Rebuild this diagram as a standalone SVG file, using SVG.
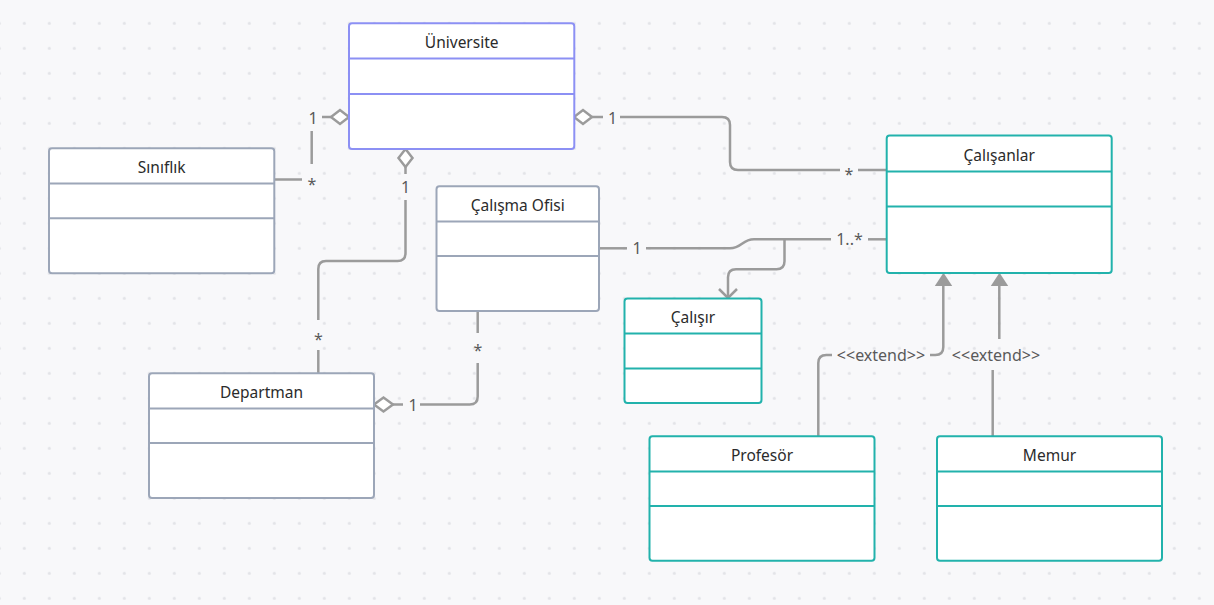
<svg xmlns="http://www.w3.org/2000/svg" width="1214" height="605" viewBox="0 0 1214 605">
<defs>
<pattern id="dots" x="11.8" y="10.8" width="25" height="25" patternUnits="userSpaceOnUse">
<circle cx="12.5" cy="12.5" r="1.6" fill="#e3e4e8"/>
</pattern>
<style>
.box{fill:#fff;stroke-width:2}
.gray{stroke:#9ca6b8}
.blue{stroke:#8c90f4}
.teal{stroke:#22b2ac}
.hd{font-family:"Noto Sans","Open Sans","Liberation Sans",sans-serif;font-size:15.5px;fill:#2b2b2b;text-anchor:middle}
.ln{fill:none;stroke:#9b9b9b;stroke-width:2.5;stroke-linecap:butt}
.lb{font-family:"Noto Sans","Open Sans","Liberation Sans",sans-serif;font-size:16px;fill:#5a5a5a;text-anchor:middle}
.dia{fill:#fff;stroke:#9b9b9b;stroke-width:2.5}
.tri{fill:#9b9b9b;stroke:none}
</style>
</defs>
<rect width="1214" height="605" fill="#f8f8fa"/>
<rect width="1214" height="605" fill="url(#dots)"/>

<g id="connectors">
<!-- Sınıflık - Üniversite -->
<path class="ln" d="M274,179.5 H302"/>
<path class="ln" d="M311.7,164 V131"/>
<path class="ln" d="M322,117 H331"/>
<polygon class="dia" points="349,117 340,110 331,117 340,124"/>
<text class="lb" x="313" y="123.5">1</text>
<text class="lb" x="312" y="190">*</text>

<!-- Üniversite - Departman -->
<polygon class="dia" points="405.5,149 412.5,158 405.5,167 398.5,158"/>
<path class="ln" d="M405.5,167 V174"/>
<path class="ln" d="M405.5,200 V253 Q405.5,261 397.5,261 H326 Q318.3,261 318.3,269 V320"/>
<path class="ln" d="M318.3,350 V373"/>
<text class="lb" x="405.5" y="193">1</text>
<text class="lb" x="318.3" y="345">*</text>

<!-- Departman - Çalışma Ofisi -->
<polygon class="dia" points="374,404.5 383.5,397.5 393,404.5 383.5,411.5"/>
<path class="ln" d="M393,404.5 H403"/>
<path class="ln" d="M420,404.5 H469.7 Q477.7,404.5 477.7,396.5 V363"/>
<path class="ln" d="M477.7,333 V311"/>
<text class="lb" x="413" y="410.5">1</text>
<text class="lb" x="478" y="356">*</text>

<!-- Üniversite - Çalışanlar -->
<polygon class="dia" points="574,117 583,110 592,117 583,124"/>
<path class="ln" d="M592,117 H603"/>
<path class="ln" d="M620,117 H722 Q730,117 730,125 V162 Q730,170 738,170 H840"/>
<path class="ln" d="M858,170 H886"/>
<text class="lb" x="612.7" y="123.5">1</text>
<text class="lb" x="849" y="180">*</text>

<!-- Çalışma Ofisi - Çalışanlar -->
<path class="ln" d="M599,248.3 H627"/>
<path class="ln" d="M646,248.3 H730 C742,248.3 742,239.3 754,239.3 H831"/>
<path class="ln" d="M868,239.3 H886"/>
<text class="lb" x="637" y="254">1</text>
<text class="lb" x="849.5" y="245">1..*</text>
<!-- branch to Çalışır -->
<path class="ln" d="M784.5,239.3 V261.3 Q784.5,269.3 776.5,269.3 H736 Q728,269.3 728,277.3 V297"/>
<path class="ln" d="M719,289 L728,298 L737,289"/>

<!-- Profesör extends Çalışanlar -->
<path class="ln" d="M818.3,436 V363 Q818.3,355 826.3,355 H832"/>
<path class="ln" d="M930,355 H935.3 Q943.3,355 943.3,347 V285"/>
<polygon class="tri" points="934.8,286 943.5,272.7 952.2,286"/>
<text class="lb" x="881" y="361">&lt;&lt;extend&gt;&gt;</text>

<!-- Memur extends Çalışanlar -->
<path class="ln" d="M992.7,436 V370"/>
<path class="ln" d="M999.3,339 V285"/>
<polygon class="tri" points="990.8,286 999.5,272.7 1008.2,286"/>
<text class="lb" x="996" y="361">&lt;&lt;extend&gt;&gt;</text>
</g>

<g id="universite">
<rect class="box blue" x="349" y="23.3" width="225.3" height="125.7" rx="3"/>
<line class="blue" stroke-width="2" x1="349" y1="58.5" x2="574.3" y2="58.5"/>
<line class="blue" stroke-width="2" x1="349" y1="94" x2="574.3" y2="94"/>
<text class="hd" x="461.7" y="47.5">Üniversite</text>
</g>

<g id="siniflik">
<rect class="box gray" x="49" y="148.3" width="225.3" height="125" rx="3"/>
<line class="gray" stroke-width="2" x1="49" y1="183.5" x2="274.3" y2="183.5"/>
<line class="gray" stroke-width="2" x1="49" y1="218.3" x2="274.3" y2="218.3"/>
<text class="hd" x="161.7" y="172.5">Sınıflık</text>
</g>

<g id="calisma-ofisi">
<rect class="box gray" x="436.5" y="186.3" width="162.5" height="124.7" rx="3"/>
<line class="gray" stroke-width="2" x1="436.5" y1="221.5" x2="599" y2="221.5"/>
<line class="gray" stroke-width="2" x1="436.5" y1="256" x2="599" y2="256"/>
<text class="hd" x="517.7" y="210.5">Çalışma Ofisi</text>
</g>

<g id="departman">
<rect class="box gray" x="149" y="373.3" width="225" height="124.7" rx="3"/>
<line class="gray" stroke-width="2" x1="149" y1="408.5" x2="374" y2="408.5"/>
<line class="gray" stroke-width="2" x1="149" y1="443" x2="374" y2="443"/>
<text class="hd" x="261.5" y="397.5">Departman</text>
</g>

<g id="calisanlar">
<rect class="box teal" x="886.7" y="135.5" width="225" height="137.5" rx="3"/>
<line class="teal" stroke-width="2" x1="886.7" y1="171.5" x2="1111.7" y2="171.5"/>
<line class="teal" stroke-width="2" x1="886.7" y1="206.5" x2="1111.7" y2="206.5"/>
<text class="hd" x="999.2" y="160.5">Çalışanlar</text>
</g>

<g id="calisir">
<rect class="box teal" x="624.5" y="298.5" width="137" height="104.5" rx="3"/>
<line class="teal" stroke-width="2" x1="624.5" y1="333.5" x2="761.5" y2="333.5"/>
<line class="teal" stroke-width="2" x1="624.5" y1="368.5" x2="761.5" y2="368.5"/>
<text class="hd" x="693" y="322.5">Çalışır</text>
</g>

<g id="profesor">
<rect class="box teal" x="649.5" y="436.3" width="225" height="124.5" rx="3"/>
<line class="teal" stroke-width="2" x1="649.5" y1="471.5" x2="874.5" y2="471.5"/>
<line class="teal" stroke-width="2" x1="649.5" y1="506" x2="874.5" y2="506"/>
<text class="hd" x="762" y="460.5">Profesör</text>
</g>

<g id="memur">
<rect class="box teal" x="937" y="436.3" width="225" height="124.5" rx="3"/>
<line class="teal" stroke-width="2" x1="937" y1="471.5" x2="1162" y2="471.5"/>
<line class="teal" stroke-width="2" x1="937" y1="506" x2="1162" y2="506"/>
<text class="hd" x="1049.5" y="460.5">Memur</text>
</g>
</svg>
